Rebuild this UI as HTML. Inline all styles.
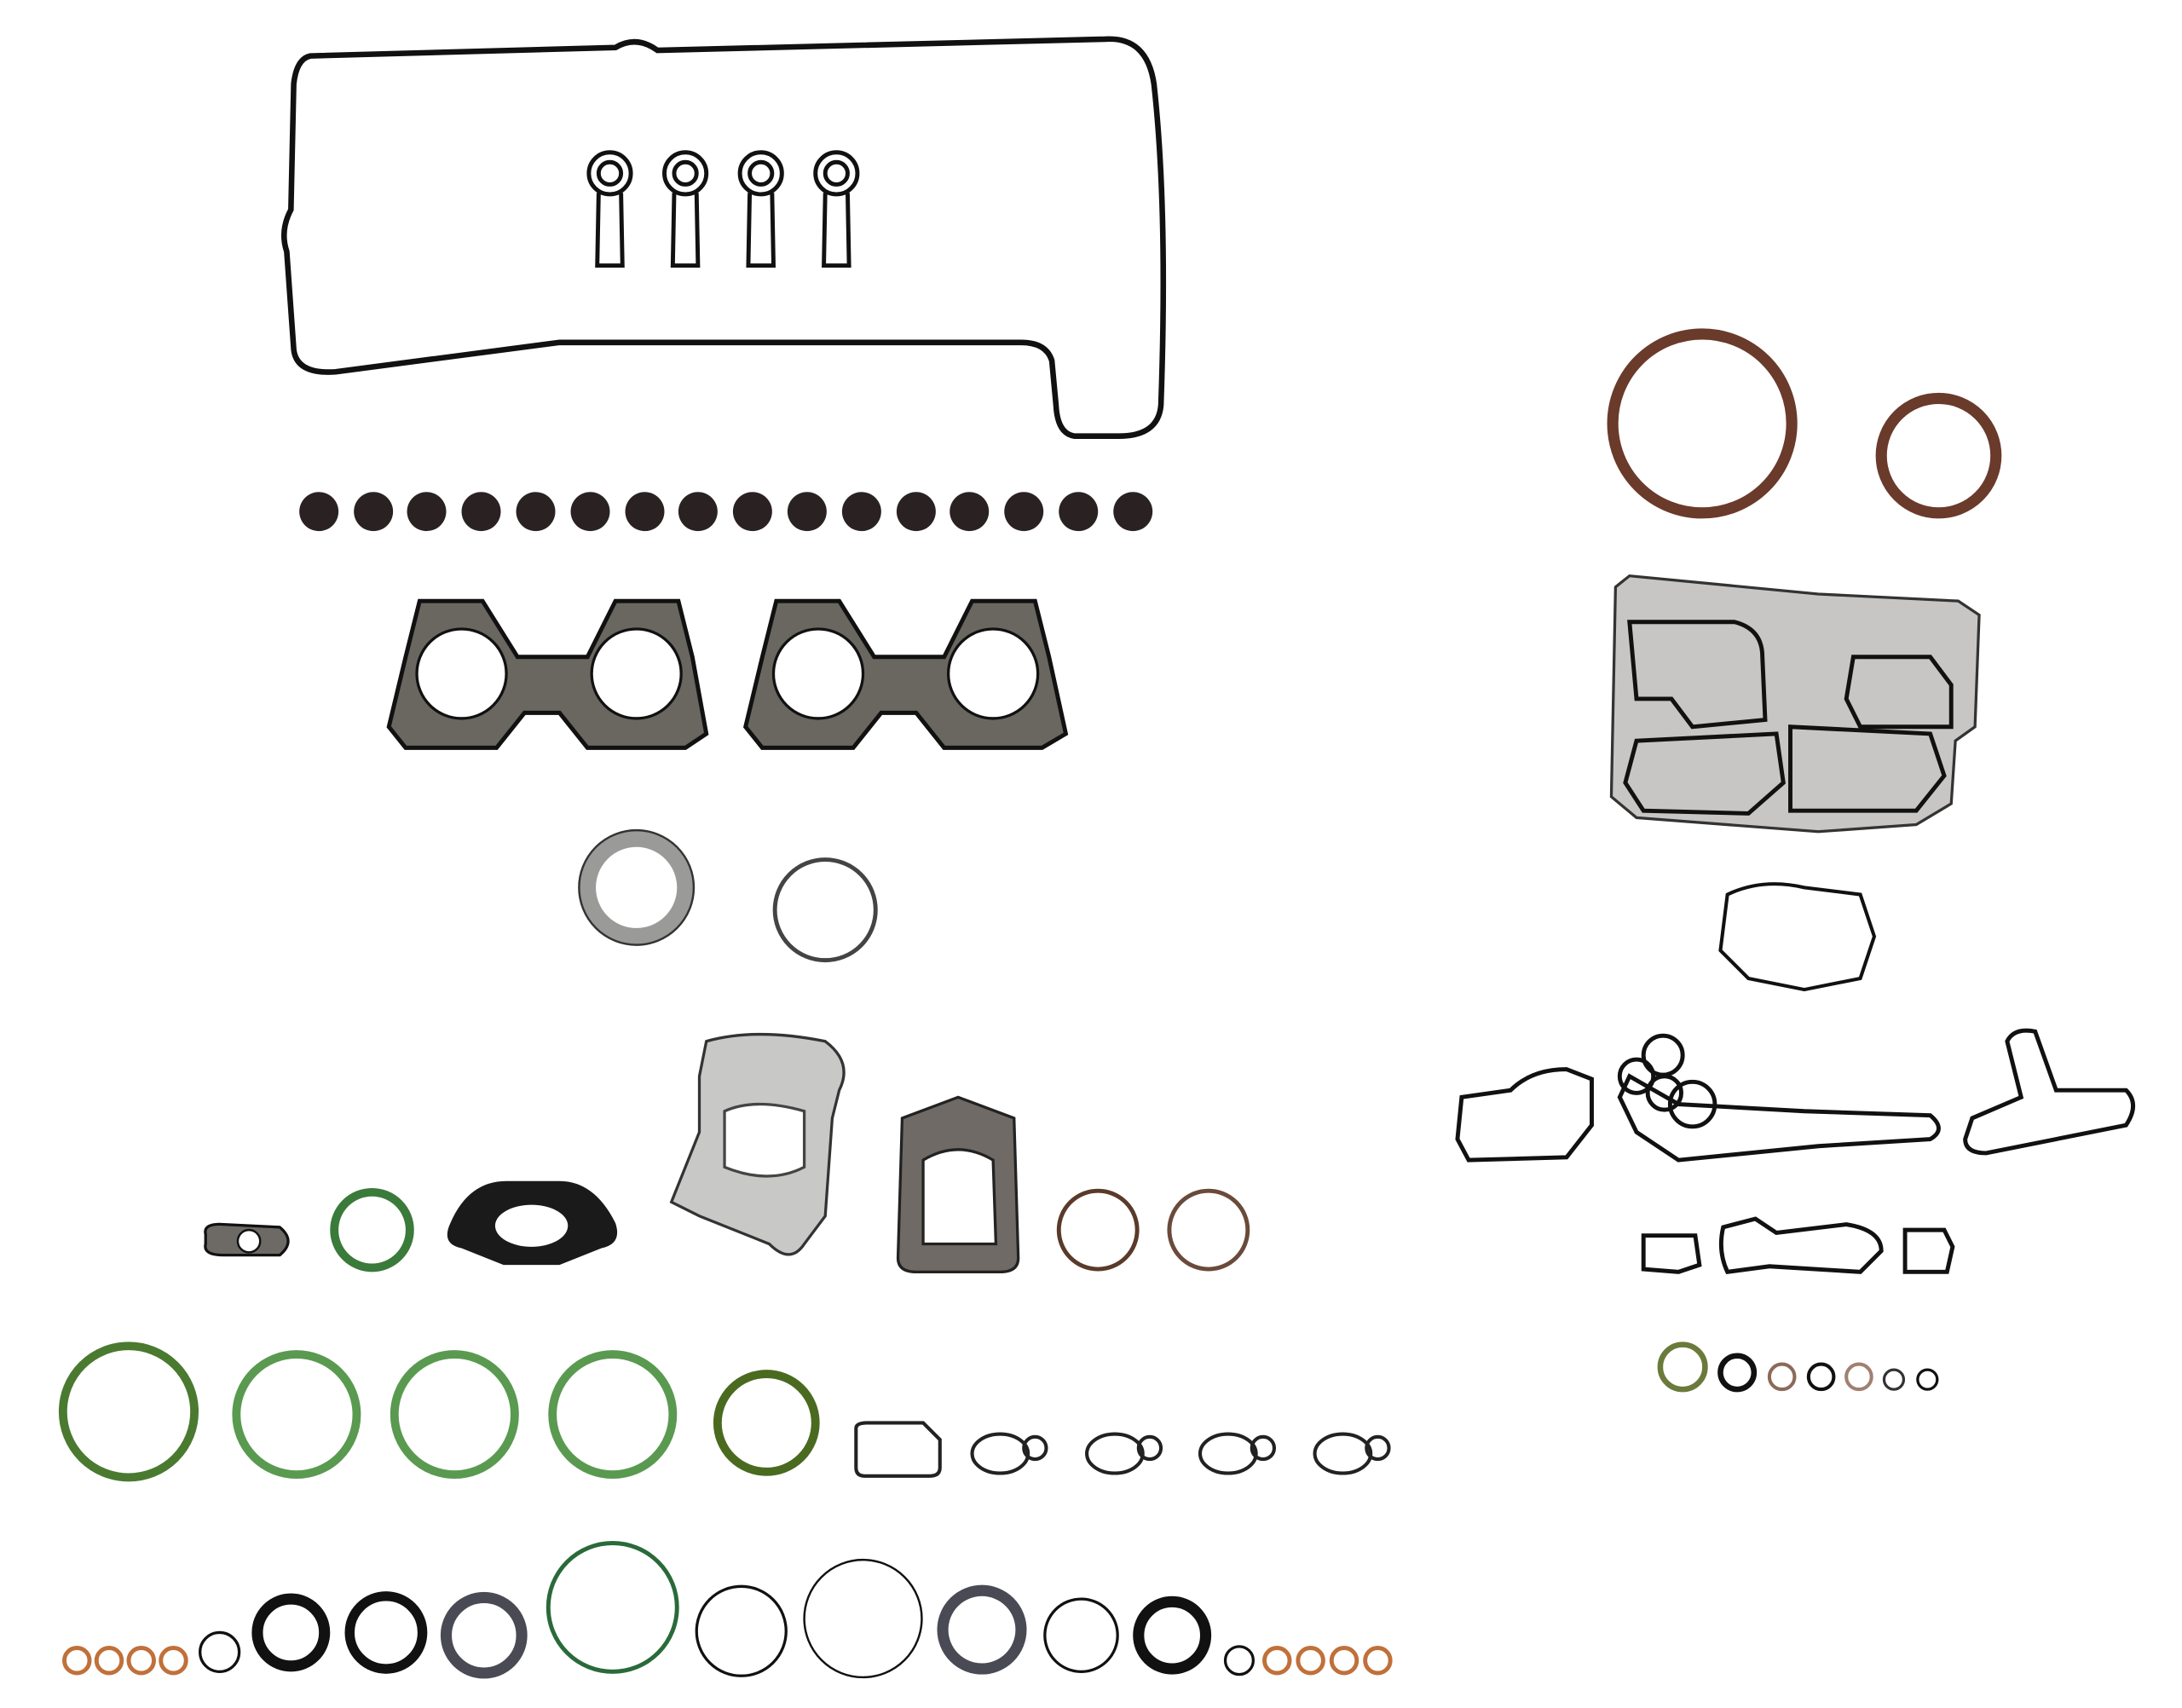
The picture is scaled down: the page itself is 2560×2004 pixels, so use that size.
<!DOCTYPE html>
<html><head><meta charset="utf-8"><style>
html,body{margin:0;padding:0;background:#fff;}
svg{display:block;}
</style></head><body>
<svg width="2560" height="2004" viewBox="0 0 1560 1222" preserveAspectRatio="none" xmlns="http://www.w3.org/2000/svg">
<rect width="1560" height="1222" fill="#fff"/>
<!-- valve cover gasket -->
<path d="M222,40 L440,34 Q455,25 470,36 L790,28 Q820,26 825,60 Q835,150 830,290 Q828,312 800,312 L768,312 Q756,310 755,290 L752,258 Q748,245 730,245 L400,245 L240,266 Q212,268 210,250 L205,180 Q200,165 208,150 L210,60 Q212,42 222,40 Z" fill="none" stroke="#111" stroke-width="4"/>
<!-- spark plug tube seals -->
<g fill="none" stroke="#111" stroke-width="3">
<g transform="translate(436,0)"><circle cx="0" cy="124" r="15"/><circle cx="0" cy="124" r="8"/><path d="M-8,138 L-9,190 L9,190 L8,138"/></g>
<g transform="translate(490,0)"><circle cx="0" cy="124" r="15"/><circle cx="0" cy="124" r="8"/><path d="M-8,138 L-9,190 L9,190 L8,138"/></g>
<g transform="translate(544,0)"><circle cx="0" cy="124" r="15"/><circle cx="0" cy="124" r="8"/><path d="M-8,138 L-9,190 L9,190 L8,138"/></g>
<g transform="translate(598,0)"><circle cx="0" cy="124" r="15"/><circle cx="0" cy="124" r="8"/><path d="M-8,138 L-9,190 L9,190 L8,138"/></g>
</g>
<!-- valve stem seals -->
<g fill="#2a2222">
<circle cx="228" cy="366" r="14"/><circle cx="267" cy="366" r="14"/><circle cx="305" cy="366" r="14"/><circle cx="344" cy="366" r="14"/><circle cx="383" cy="366" r="14"/><circle cx="422" cy="366" r="14"/><circle cx="461" cy="366" r="14"/><circle cx="499" cy="366" r="14"/><circle cx="538" cy="366" r="14"/><circle cx="577" cy="366" r="14"/><circle cx="616" cy="366" r="14"/><circle cx="655" cy="366" r="14"/><circle cx="693" cy="366" r="14"/><circle cx="732" cy="366" r="14"/><circle cx="771" cy="366" r="14"/><circle cx="810" cy="366" r="14"/>
</g>
<!-- exhaust manifold gaskets -->
<g stroke="#111" stroke-width="3" fill="#6a6660">
<path d="M278,520 L290,470 L300,430 L345,430 L370,470 L420,470 L440,430 L485,430 L495,470 L505,525 L490,535 L420,535 L400,510 L375,510 L355,535 L290,535 Z"/>
<path d="M533,520 L545,470 L555,430 L600,430 L625,470 L675,470 L695,430 L740,430 L750,470 L762,525 L745,535 L675,535 L655,510 L630,510 L610,535 L545,535 Z"/>
</g>
<g fill="#fff" stroke="#111" stroke-width="2">
<circle cx="330" cy="482" r="32"/><circle cx="455" cy="482" r="32"/><circle cx="585" cy="482" r="32"/><circle cx="710" cy="482" r="32"/>
</g>
<!-- exhaust rings -->
<circle cx="455" cy="635" r="35" fill="none" stroke="#9a9a98" stroke-width="12"/>
<circle cx="455" cy="635" r="41" fill="none" stroke="#333" stroke-width="1.5"/>
<circle cx="590" cy="651" r="36" fill="none" stroke="#444" stroke-width="3"/>
<!-- turbo row -->
<path d="M147,883 Q145,875 160,876 L200,878 Q212,888 200,898 L160,898 Q145,898 147,890 Z" fill="#6d6a66" stroke="#111" stroke-width="2"/>
<circle cx="178" cy="888" r="8" fill="#fff" stroke="#111" stroke-width="1.5"/>
<circle cx="266" cy="880" r="27" fill="none" stroke="#3a7a3a" stroke-width="6"/>
<path d="M322,875 Q335,845 362,845 L400,845 Q425,845 440,875 Q445,890 430,893 L400,905 L360,905 L330,893 Q315,890 322,875 Z" fill="#1a1a1a"/>
<ellipse cx="380" cy="877" rx="26" ry="15" fill="#fff"/>
<path d="M505,745 Q540,735 590,745 Q610,760 600,780 L595,800 L590,870 L575,890 Q565,905 550,890 L500,870 L480,860 L500,810 L500,770 Z" fill="#c8c8c6" stroke="#333" stroke-width="2"/>
<path d="M518,795 Q540,785 575,795 L575,835 Q550,848 518,835 Z" fill="#fff" stroke="#444" stroke-width="2"/>
<path d="M645,800 L685,785 L725,800 L728,900 Q728,910 715,910 L655,910 Q642,910 642,900 Z" fill="#6f6a66" stroke="#222" stroke-width="2"/>
<path d="M660,830 Q685,815 710,830 L712,890 L660,890 Z" fill="#fff" stroke="#222" stroke-width="2"/>
<circle cx="785" cy="880" r="28" fill="none" stroke="#5a3a2a" stroke-width="3"/>
<circle cx="864" cy="880" r="28" fill="none" stroke="#6a4a3a" stroke-width="3"/>
<!-- green big rings -->
<g fill="none" stroke="#5a9a50" stroke-width="6">
<circle cx="92" cy="1010" r="47" stroke="#4a7a30"/>
<circle cx="212" cy="1012" r="43"/>
<circle cx="325" cy="1012" r="43"/>
<circle cx="438" cy="1012" r="43"/>
<circle cx="548" cy="1018" r="35" stroke="#4a6a20"/>
</g>
<g fill="none" stroke="#222" stroke-width="2.5">
<path d="M612,1022 Q612,1018 620,1018 L660,1018 L672,1030 L672,1050 Q672,1056 665,1056 L618,1056 Q612,1056 612,1050 Z"/>
<ellipse cx="715" cy="1040" rx="20" ry="14"/><circle cx="740" cy="1036" r="8"/>
<ellipse cx="797" cy="1040" rx="20" ry="14"/><circle cx="822" cy="1036" r="8"/>
<ellipse cx="878" cy="1040" rx="20" ry="14"/><circle cx="903" cy="1036" r="8"/>
<ellipse cx="960" cy="1040" rx="20" ry="14"/><circle cx="985" cy="1036" r="8"/>
</g>
<!-- bottom row -->
<g fill="none" stroke="#c0703a" stroke-width="3">
<circle cx="55" cy="1188" r="9"/><circle cx="78" cy="1188" r="9"/><circle cx="101" cy="1188" r="9"/><circle cx="124" cy="1188" r="9"/>
<circle cx="913" cy="1188" r="9"/><circle cx="937" cy="1188" r="9"/><circle cx="961" cy="1188" r="9"/><circle cx="985" cy="1188" r="9"/>
</g>
<g fill="none" stroke="#111">
<circle cx="157" cy="1182" r="14" stroke-width="2"/>
<circle cx="208" cy="1168" r="24" stroke-width="8"/>
<circle cx="276" cy="1168" r="26" stroke-width="7"/>
<circle cx="346" cy="1170" r="27" stroke-width="8" stroke="#4a4a55"/>
<circle cx="438" cy="1150" r="46" stroke-width="3" stroke="#2a6a3a"/>
<circle cx="530" cy="1167" r="32" stroke-width="2"/>
<circle cx="617" cy="1158" r="42" stroke-width="1.5"/>
<circle cx="702" cy="1166" r="28" stroke-width="8" stroke="#4a4a55"/>
<circle cx="773" cy="1170" r="26" stroke-width="2"/>
<circle cx="838" cy="1170" r="24" stroke-width="8"/>
<circle cx="886" cy="1188" r="10" stroke-width="2"/>
</g>
<!-- right side -->
<circle cx="1217" cy="303" r="64" fill="none" stroke="#6a3a2a" stroke-width="8"/>
<circle cx="1386" cy="326" r="41" fill="none" stroke="#6a3a2a" stroke-width="8"/>
<path d="M1155,420 L1165,412 L1300,425 L1400,430 L1415,440 L1412,520 L1398,530 L1395,575 L1370,590 L1300,595 L1170,585 L1152,570 Z" fill="#c8c6c4" stroke="#333" stroke-width="2"/>
<g fill="none" stroke="#111" stroke-width="3">
<path d="M1165,445 L1240,445 Q1260,450 1260,470 L1262,515 L1210,520 L1195,500 L1170,500 Z"/>
<path d="M1325,470 L1380,470 L1395,490 L1395,520 L1330,520 L1320,500 Z"/>
<path d="M1170,530 L1270,525 L1275,560 L1250,582 L1175,580 L1162,560 Z"/>
<path d="M1280,520 L1380,525 L1390,555 L1370,580 L1280,580 Z"/>
</g>
<path d="M1235,640 Q1260,628 1290,635 L1330,640 L1340,670 L1330,700 L1290,708 L1250,700 L1230,680 Z" fill="none" stroke="#111" stroke-width="2.5"/>
<g fill="none" stroke="#111" stroke-width="3">
<path d="M1045,785 L1080,780 Q1095,765 1120,765 L1138,772 L1138,805 L1120,828 L1050,830 L1042,815 Z"/>
<path d="M1165,770 L1200,790 L1290,795 L1380,798 Q1392,808 1380,815 L1300,820 L1200,830 L1170,810 L1158,785 Z"/>
<circle cx="1189" cy="755" r="14"/><circle cx="1170" cy="770" r="12"/><circle cx="1190" cy="782" r="12"/><circle cx="1210" cy="790" r="16"/>
<path d="M1410,800 L1445,785 L1435,745 Q1440,735 1455,738 L1470,780 L1520,780 Q1530,790 1520,805 L1420,825 Q1405,825 1405,815 Z"/>
<path d="M1175,884 L1212,884 L1215,905 L1200,910 L1175,908 Z"/>
<path d="M1232,878 L1255,872 L1270,882 L1320,876 Q1345,880 1345,895 L1330,910 L1265,906 L1235,910 Q1228,895 1232,878 Z"/>
<path d="M1362,880 L1390,880 L1396,892 L1392,910 L1362,910 Z"/>
</g>
<circle cx="1203" cy="978" r="16" fill="none" stroke="#6a7a3a" stroke-width="4"/>
<circle cx="1242" cy="982" r="12" fill="none" stroke="#111" stroke-width="4"/>
<circle cx="1274" cy="985" r="9" fill="none" stroke="#8a6a5a" stroke-width="2.5"/>
<circle cx="1302" cy="985" r="9" fill="none" stroke="#111" stroke-width="2.5"/>
<circle cx="1329" cy="985" r="9" fill="none" stroke="#a08070" stroke-width="2.5"/>
<circle cx="1354" cy="987" r="7" fill="none" stroke="#333" stroke-width="2"/>
<circle cx="1378" cy="987" r="7" fill="none" stroke="#111" stroke-width="2"/>
</svg>
</body></html>
